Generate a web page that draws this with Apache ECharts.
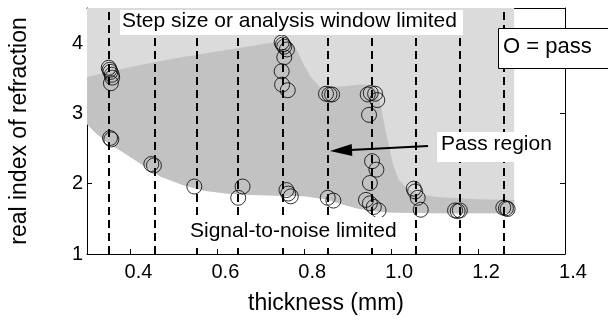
<!DOCTYPE html>
<html><head><meta charset="utf-8">
<script src="https://cdn.jsdelivr.net/npm/echarts@6/dist/echarts.min.js"></script>
<style>html,body{margin:0;padding:0;background:#fff}#c{width:608px;height:320px}</style>
</head><body><div id="c"></div>
<script>
// Pass points (thickness mm, real index)
const passX = [0.350,0.352,0.354,0.357,0.358,0.355,0.353,0.356,
  0.448,0.454, 0.547, 0.658,0.648,
  0.748,0.751,0.754,0.760,0.754,0.748,0.749,0.762, 0.759,0.763,0.769,
  0.850,0.858,0.864, 0.854,0.867,
  0.946,0.953,0.963,0.968,0.949, 0.956,0.966,0.951,0.942,0.951,0.960,0.971,
  1.052,1.055,1.061,1.068, 1.147,1.153,1.158, 1.258,1.264,1.268];
const passY = [3.65,3.62,3.59,3.55,3.51,3.43,2.65,2.63,
  2.28,2.26, 1.96, 1.96,1.80,
  4.01,3.98,3.95,3.91,3.80,3.60,3.41,3.33, 1.91,1.86,1.82,
  3.28,3.27,3.27, 1.80,1.76,
  3.27,3.29,3.28,3.19,2.98, 2.32,2.20,2.01,1.77,1.72,1.67,1.62,
  1.93,1.89,1.80,1.63, 1.62,1.61,1.62, 1.66,1.65,1.64];
// measured thicknesses (dashed lines)
const sampleX = [0.351,0.456,0.553,0.648,0.750,0.854,0.955,1.056,1.157,1.258];
// pass-region upper boundary
const upperX = [0.30,0.40,0.50,0.60,0.70,0.76,0.775,0.786,0.80,0.816,0.835,0.88,0.93,0.955,0.968,0.978,0.987,0.996,1.004,1.017,1.037,1.067,1.106,1.20,1.283];
const upperY = [3.52,3.66,3.78,3.88,3.98,4.04,3.98,3.86,3.68,3.51,3.38,3.38,3.41,3.40,3.32,3.05,2.75,2.52,2.28,2.06,1.92,1.85,1.81,1.78,1.77];
// signal-to-noise lower boundary
const lowerX = [0.30,0.32,0.35,0.38,0.42,0.47,0.52,0.57,0.62,0.68,0.75,0.80,0.85,0.88,0.92,0.96,1.00,1.10,1.283];
const lowerY = [2.85,2.72,2.57,2.46,2.30,2.10,1.98,1.90,1.86,1.84,1.83,1.82,1.78,1.72,1.65,1.61,1.59,1.58,1.58];
const limitRight = 1.283;
const xTicks = [0.4,0.6,0.8,1.0,1.2,1.4];
const yTicks = [1,2,3,4];

const FONT = 'Liberation Sans, Arial, Helvetica, sans-serif';
const chart = echarts.init(document.getElementById('c'));

function polygonItem(ptsFn, color){
  return function(params, api){
    const pts = ptsFn().map(p => api.coord(p));
    return {type:'polygon', shape:{points:pts}, style:{fill:color, stroke:null}, silent:true};
  };
}
const lowerPts = () => lowerX.map((x,i)=>[x,lowerY[i]]);
const lightPts = () => [[0.3,4.5],[limitRight,4.5]].concat(lowerPts().reverse());
const darkPts = () => upperX.map((x,i)=>[x,upperY[i]]).concat(lowerPts().reverse());

const baseAxis = {
  axisLine:{show:true, onZero:false, lineStyle:{color:'#000', width:1}},
  splitLine:{show:false},
};

chart.setOption({
  animation:false,
  grid:{left:84, right:43, top:8, bottom:65, containLabel:false},
  xAxis:[
    Object.assign({}, baseAxis, {type:'value', min:0.3, max:1.4, position:'bottom',
      axisTick:{show:true, inside:true, length:5, customValues:xTicks, lineStyle:{color:'#000'}},
      axisLabel:{customValues:xTicks, formatter:v=>v.toFixed(1), color:'#000', fontSize:20, fontFamily:FONT, margin:8, padding:[0,0,0,16]},
      name:'thickness (mm)', nameLocation:'middle', nameGap:38,
      nameTextStyle:{color:'#000', fontSize:23, fontFamily:FONT}}),
    Object.assign({}, baseAxis, {type:'value', min:0.3, max:1.4, position:'top',
      axisTick:{show:true, inside:true, length:5, customValues:xTicks, lineStyle:{color:'#000'}},
      axisLabel:{show:false}})
  ],
  yAxis:[
    Object.assign({}, baseAxis, {type:'value', min:1, max:4.5, position:'left',
      axisTick:{show:true, inside:true, length:5, customValues:yTicks, lineStyle:{color:'#000'}},
      axisLabel:{customValues:yTicks, color:'#000', fontSize:20, fontFamily:FONT, margin:4},
      name:'real index of refraction', nameLocation:'middle', nameGap:56,
      nameTextStyle:{color:'#000', fontSize:23, fontFamily:FONT}}),
    Object.assign({}, baseAxis, {type:'value', min:1, max:4.5, position:'right',
      axisTick:{show:true, inside:true, length:5, customValues:yTicks, lineStyle:{color:'#000'}},
      axisLabel:{show:false}})
  ],
  series:[
    {type:'custom', name:'limited', data:[0], z:1, renderItem:polygonItem(lightPts,'#dbdbdb'), silent:true, clip:true},
    {type:'custom', name:'pass region', data:[0], z:2, renderItem:polygonItem(darkPts,'#c2c2c2'), silent:true, clip:true},
    {type:'line', name:'samples', data:[], z:3, symbol:'none', silent:true,
      markLine:{silent:true, symbol:['none','none'], label:{show:false},
        lineStyle:{color:'#000', width:2, type:[8,5]},
        data: sampleX.map(x=>[{coord:[x,1]},{coord:[x,4.5]}])}},
    {type:'scatter', name:'pass', z:5, symbol:'circle', symbolSize:15,
      itemStyle:{color:'rgba(0,0,0,0)', borderColor:'#000', borderWidth:1},
      data: passX.map((x,i)=>[x,passY[i]])}
  ],
  graphic:[
    {type:'rect', z:10, shape:{x:120, y:10, width:343, height:25}, style:{fill:'#fff'}},
    {type:'text', z:11, left:122, top:11, style:{text:'Step size or analysis window limited', font:'21px '+FONT, fill:'#000'}},
    {type:'rect', z:10, shape:{x:186, y:217, width:216, height:31}, style:{fill:'#fff'}},
    {type:'text', z:11, left:190, top:221, style:{text:'Signal-to-noise limited', font:'21px '+FONT, fill:'#000'}},
    {type:'rect', z:10, shape:{x:437, y:132, width:117, height:30}, style:{fill:'#fff'}},
    {type:'text', z:11, left:441, top:134, style:{text:'Pass region', font:'21px '+FONT, fill:'#000'}},
    {type:'line', z:11, shape:{x1:428, y1:146, x2:350, y2:150}, style:{stroke:'#000', lineWidth:2}},
    {type:'polygon', z:11, shape:{points:[[330,151],[352.3,156],[351.7,144]]}, style:{fill:'#000'}},
    {type:'rect', z:10, shape:{x:498.5, y:28.5, width:120, height:40}, style:{fill:'#fff', stroke:'#000', lineWidth:1}},
    {type:'text', z:11, left:503, top:36, style:{text:'O = pass', font:'22px '+FONT, fill:'#000'}}
  ]
});
</script></body></html>
